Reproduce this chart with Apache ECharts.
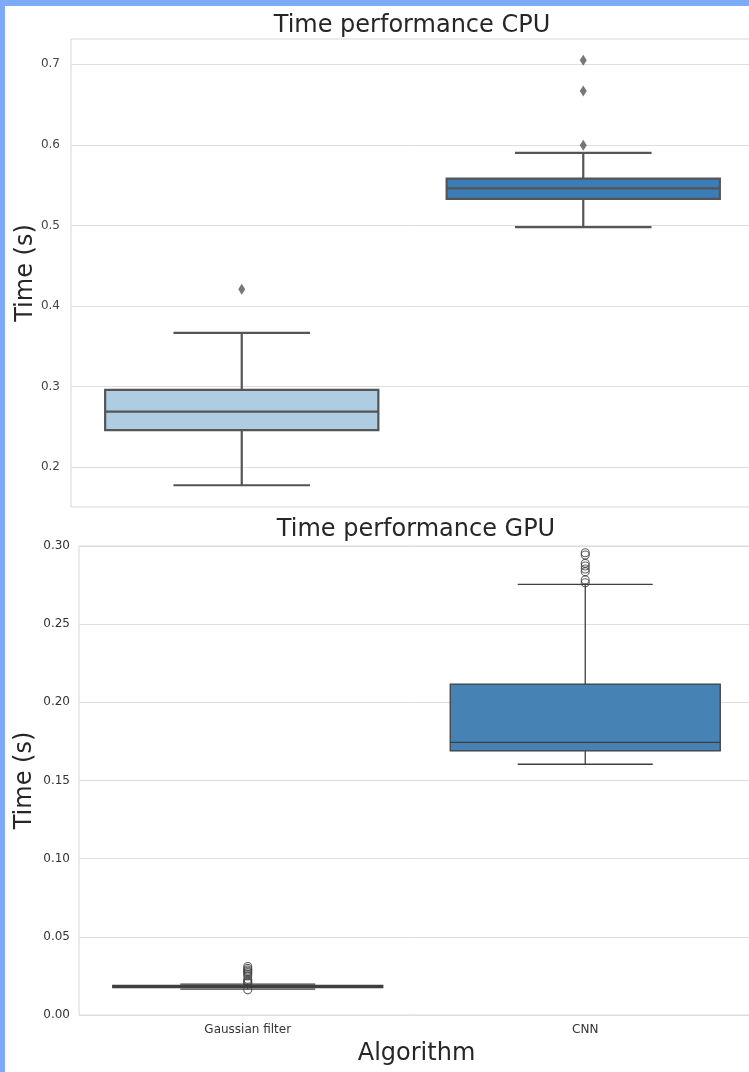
<!DOCTYPE html>
<html><head><meta charset="utf-8">
<script src="https://cdn.jsdelivr.net/npm/echarts@6/dist/echarts.min.js"></script>
<style>html,body{margin:0;padding:0;background:#fff}#c{width:749px;height:1072px}</style>
</head><body><div id="c"></div>
<script>
const categories = ['Gaussian filter', 'CNN'];
// box stats: [lower whisker, Q1, median, Q3, upper whisker]
const cpuBoxes = [
  [0.1776, 0.2460, 0.2690, 0.2960, 0.3667],
  [0.4980, 0.5330, 0.5460, 0.5580, 0.5900]
];
const cpuOutliersGaussian = [0.4207];
const cpuOutliersCNN = [0.5996, 0.6670, 0.7050];
const gpuBoxes = [
  [0.0166, 0.0175, 0.0182, 0.0189, 0.0198],
  [0.1604, 0.1689, 0.1744, 0.2117, 0.2755]
];
const gpuOutliersGaussian = [0.0161, 0.0203, 0.0210, 0.0218, 0.0228, 0.0250, 0.0262, 0.0272, 0.0280, 0.0288, 0.0298, 0.0310];
const gpuOutliersCNN = [0.2765, 0.2783, 0.2836, 0.2853, 0.2872, 0.2889, 0.2942, 0.2957];
const cpuTicks = [0.2, 0.3, 0.4, 0.5, 0.6, 0.7];
const titles = ['Time performance CPU', 'Time performance GPU'];

const cpuColors = ['#aecde2', '#3b7db6'];
const gpuColors = ['#a7c8df', '#4683b4'];

function boxData(boxes) {
  return boxes.map((b, i) => [i].concat(b));
}
function outlierData(g, c) {
  return g.map(v => [0, v]).concat(c.map(v => [1, v]));
}

function makeRender(colors, stroke, lw) {
  return function (params, api) {
    const x = api.value(0);
    const lo = api.coord([x, api.value(1)]);
    const q1 = api.coord([x, api.value(2)]);
    const md = api.coord([x, api.value(3)]);
    const q3 = api.coord([x, api.value(4)]);
    const hi = api.coord([x, api.value(5)]);
    const band = api.size([1, 0])[0];
    const bw = band * 0.8;
    const cw = bw * 0.5;
    const cx = lo[0];
    const ls = { stroke: stroke, lineWidth: lw };
    return {
      type: 'group',
      children: [
        { type: 'line', shape: { x1: cx, y1: q1[1], x2: cx, y2: lo[1] }, style: ls },
        { type: 'line', shape: { x1: cx, y1: q3[1], x2: cx, y2: hi[1] }, style: ls },
        { type: 'rect', shape: { x: cx - bw / 2, y: q3[1], width: bw, height: q1[1] - q3[1] },
          style: { fill: colors[x], stroke: stroke, lineWidth: lw } },
        { type: 'line', shape: { x1: cx - bw / 2, y1: md[1], x2: cx + bw / 2, y2: md[1] }, style: ls },
        { type: 'line', shape: { x1: cx - cw / 2, y1: lo[1], x2: cx + cw / 2, y2: lo[1] }, style: ls },
        { type: 'line', shape: { x1: cx - cw / 2, y1: hi[1], x2: cx + cw / 2, y2: hi[1] }, style: ls }
      ]
    };
  };
}

const font = 'DejaVu Sans';
const chart = echarts.init(document.getElementById('c'), null, { renderer: 'canvas' });
chart.setOption({
  backgroundColor: '#ffffff',
  animation: false,
  grid: [
    { left: 71, top: 39, width: 683, height: 468, outerBoundsMode: 'none', containLabel: false,
      show: true, borderColor: '#d6d6d6', borderWidth: 1, backgroundColor: '#fff' },
    { left: 79, top: 546, width: 675, height: 469, outerBoundsMode: 'none', containLabel: false,
      show: true, borderColor: '#d6d6d6', borderWidth: 1, backgroundColor: '#fff' }
  ],
  xAxis: [
    { type: 'category', gridIndex: 0, data: categories,
      axisLine: { show: false }, axisTick: { show: false }, axisLabel: { show: false }, splitLine: { show: false } },
    { type: 'category', gridIndex: 1, data: categories,
      name: 'Algorithm', nameLocation: 'middle', nameGap: 27, nameMoveOverlap: false,
      nameTextStyle: { fontFamily: font, fontSize: 24, color: '#262626' },
      axisLine: { show: false }, axisTick: { show: false },
      axisLabel: { fontFamily: font, fontSize: 12, color: '#333', margin: 9 }, splitLine: { show: false } }
  ],
  yAxis: [
    { type: 'value', gridIndex: 0, min: 0.1506, max: 0.7314,
      name: 'Time (s)', nameLocation: 'middle', nameGap: 33, nameRotate: 90, nameMoveOverlap: false,
      nameTextStyle: { fontFamily: font, fontSize: 24, color: '#262626' },
      axisLine: { show: false },
      axisTick: { show: false, customValues: cpuTicks },
      axisLabel: { customValues: cpuTicks, fontFamily: font, fontSize: 12, color: '#444', margin: 11,
        formatter: v => v.toFixed(1) },
      splitLine: { show: true, lineStyle: { color: '#dedede', width: 1 } } },
    { type: 'value', gridIndex: 1, min: 0, max: 0.30, interval: 0.05,
      name: 'Time (s)', nameLocation: 'middle', nameGap: 42, nameRotate: 90, nameMoveOverlap: false,
      nameTextStyle: { fontFamily: font, fontSize: 24, color: '#262626' },
      axisLine: { show: false }, axisTick: { show: false },
      axisLabel: { fontFamily: font, fontSize: 12, color: '#333', margin: 9,
        formatter: v => v.toFixed(2) },
      splitLine: { show: true, lineStyle: { color: '#dedede', width: 1 } } }
  ],
  series: [
    { type: 'custom', xAxisIndex: 0, yAxisIndex: 0, data: boxData(cpuBoxes),
      encode: { x: 0, y: [1, 2, 3, 4, 5] }, renderItem: makeRender(cpuColors, '#555555', 2.2), z: 3 },
    { type: 'scatter', xAxisIndex: 0, yAxisIndex: 0, data: outlierData(cpuOutliersGaussian, cpuOutliersCNN),
      symbol: 'diamond', symbolSize: [7, 11], itemStyle: { color: '#555555' }, z: 4 },
    { type: 'custom', xAxisIndex: 1, yAxisIndex: 1, data: boxData(gpuBoxes),
      encode: { x: 0, y: [1, 2, 3, 4, 5] }, renderItem: makeRender(gpuColors, '#3f3f3f', 1.3), z: 3 },
    { type: 'scatter', xAxisIndex: 1, yAxisIndex: 1, data: outlierData(gpuOutliersGaussian, gpuOutliersCNN),
      symbol: 'circle', symbolSize: 8,
      itemStyle: { color: 'rgba(0,0,0,0)', borderColor: '#3f3f3f', borderWidth: 1.1 }, z: 4 }
  ],
  graphic: [
    { type: 'text', x: 412, y: 26, z: 50,
      style: { text: titles[0], textAlign: 'center', textVerticalAlign: 'middle',
        font: '24px "DejaVu Sans"', fill: '#262626' } },
    { type: 'text', x: 416, y: 530, z: 50,
      style: { text: titles[1], textAlign: 'center', textVerticalAlign: 'middle',
        font: '24px "DejaVu Sans"', fill: '#262626' } },
    { type: 'rect', left: 0, top: 0, shape: { width: 749, height: 6 }, style: { fill: '#7eabf9' }, z: 100 },
    { type: 'rect', left: 0, top: 0, shape: { width: 5, height: 1072 }, style: { fill: '#7eabf9' }, z: 100 }
  ]
});
</script>
</body></html>
